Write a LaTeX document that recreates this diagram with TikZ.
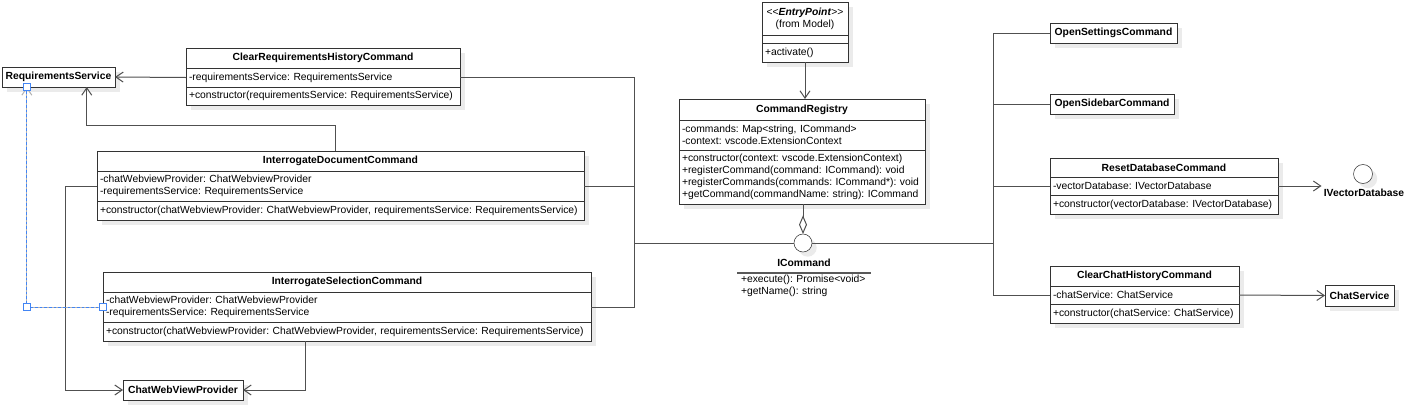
\documentclass[tikz,border=0pt]{standalone}
\usepackage{fontspec}
\setmainfont{Liberation Sans}
\usetikzlibrary{arrows.meta, calc, shadows}

\newlength{\upx}
\setlength{\upx}{0.75pt}
\newcommand{\umlsize}{\fontsize{7.75}{9}\selectfont\frenchspacing\hyphenpenalty=10000\exhyphenpenalty=10000}

\definecolor{boxline}{RGB}{51,51,51}
\definecolor{connline}{RGB}{80,80,80}
\definecolor{selblue}{RGB}{66,133,244}

\begin{document}
\begin{tikzpicture}[
    x=0.75pt, y=-0.75pt,
    boxshadow/.style={general shadow={fill=black!8, shadow xshift=3.5pt, shadow yshift=-3.5pt}},
    classname/.style={draw=boxline, fill=white, font=\umlsize\bfseries, minimum width=#1, minimum height=20\upx, inner sep=0pt, outer sep=0pt, anchor=north west, boxshadow},
    classpart/.style={draw=boxline, fill=white, font=\umlsize, text width=#1, inner xsep=3\upx, inner ysep=0pt, outer sep=0pt, align=left, anchor=north west, boxshadow},
    refbox/.style={draw=boxline, fill=white, font=\umlsize\bfseries, minimum width=#1, minimum height=20\upx, inner sep=0pt, outer sep=0pt, boxshadow},
    iface/.style={circle, draw=boxline, fill=white, minimum size=18\upx, inner sep=0pt, outer sep=0pt, boxshadow},
    ifacename/.style={font=\umlsize\bfseries, inner sep=2\upx},
    members/.style={font=\umlsize, text width=#1, inner xsep=4\upx, inner ysep=2\upx, outer sep=0pt, align=left, anchor=north west},
    conn/.style={draw=connline, line width=0.75pt},
    openarrow/.style={-{Straight Barb[length=5.5pt, width=7.5pt]}},
    aggr/.style={-{Diamond[open, length=14pt, width=6pt]}},
    selline/.style={draw=selblue, line width=0.75pt, dash pattern=on 2pt off 1.5pt},
    handle/.style={draw=selblue, fill=white, line width=0.6pt, minimum size=7\upx, inner sep=0pt},
]
\path[use as bounding box, fill=white] (0,0) rectangle (1419,411);

\node[refbox=113\upx] (reqSvc) at (58.5,77) {RequirementsService};

\node[classname=274\upx] (clearReq) at (186,48) {ClearRequirementsHistoryCommand};
\node[classpart=268\upx, minimum height=19\upx] (clearReqAttr) at (clearReq.south west) {-requirementsService: RequirementsService};
\node[classpart=268\upx, minimum height=18\upx] (clearReqOps) at (clearReqAttr.south west) {+constructor(requirementsService: RequirementsService)};

\node[classname=487\upx] (interDoc) at (97,151) {InterrogateDocumentCommand};
\node[classpart=481\upx, minimum height=30\upx] (interDocAttr) at (interDoc.south west) {-chatWebviewProvider: ChatWebviewProvider\\-requirementsService: RequirementsService};
\node[classpart=481\upx, minimum height=19\upx] (interDocOps) at (interDocAttr.south west) {+constructor(chatWebviewProvider: ChatWebviewProvider, requirementsService: RequirementsService)};

\node[classname=488\upx] (interSel) at (103,272) {InterrogateSelectionCommand};
\node[classpart=482\upx, minimum height=30\upx] (interSelAttr) at (interSel.south west) {-chatWebviewProvider: ChatWebviewProvider\\-requirementsService: RequirementsService};
\node[classpart=482\upx, minimum height=19\upx] (interSelOps) at (interSelAttr.south west) {+constructor(chatWebviewProvider: ChatWebviewProvider, requirementsService: RequirementsService)};

\node[refbox=120\upx] (chatWvp) at (183,390) {ChatWebViewProvider};

\node[classname=86\upx, minimum height=33\upx, font=\umlsize, align=center] (entry) at (762,2) {<{}<\textbf{\textit{EntryPoint}}>{}>\\(from Model)};
\node[classname=86\upx, minimum height=8\upx, font=\umlsize] (entryAttr) at (entry.south west) {};
\node[classpart=80\upx, minimum height=19\upx] (entryOps) at (entryAttr.south west) {+activate()};

\node[classname=246\upx, minimum height=21\upx] (cmdReg) at (679,99) {CommandRegistry};
\node[classpart=240\upx, minimum height=30\upx] (cmdRegAttr) at (cmdReg.south west) {-commands: Map<string, ICommand>\\-context: vscode.ExtensionContext};
\node[classpart=240\upx, minimum height=54\upx] (cmdRegOps) at (cmdRegAttr.south west) {+constructor(context: vscode.ExtensionContext)\\+registerCommand(command: ICommand): void\\+registerCommands(commands: ICommand*): void\\+getCommand(commandName: string): ICommand};

\node[iface] (icmd) at (803,243) {};
\node[ifacename] (icmdName) at (804,263) {ICommand};
\node[members=126\upx] (icmdOps) at (737,273) {+execute(): Promise<void>\\+getName(): string};

\node[refbox=127\upx] (openSet) at (1113.5,33) {OpenSettingsCommand};
\node[refbox=124\upx] (openSide) at (1112,104) {OpenSidebarCommand};

\node[classname=228\upx, minimum height=19\upx] (resetDb) at (1050,158) {ResetDatabaseCommand};
\node[classpart=222\upx, minimum height=18\upx] (resetDbAttr) at (resetDb.south west) {-vectorDatabase: IVectorDatabase};
\node[classpart=222\upx, minimum height=19\upx] (resetDbOps) at (resetDbAttr.south west) {+constructor(vectorDatabase: IVectorDatabase)};

\node[iface, minimum size=19\upx] (ivdb) at (1363,174) {};
\node[ifacename] (ivdbName) at (1364,193) {IVectorDatabase};

\node[classname=189\upx] (clearChat) at (1050,266) {ClearChatHistoryCommand};
\node[classpart=183\upx, minimum height=18\upx] (clearChatAttr) at (clearChat.south west) {-chatService: ChatService};
\node[classpart=183\upx, minimum height=19\upx] (clearChatOps) at (clearChatAttr.south west) {+constructor(chatService: ChatService)};

\node[refbox=69\upx, minimum height=21\upx] (chatSvc) at (1359.5,295.5) {ChatService};

\coordinate (busL) at (634,243);
\coordinate (busR) at (993,243);
\coordinate (reqTip) at ($(reqSvc.south west)!0.75!(reqSvc.south east)$);
\coordinate (reqHook) at ($(reqSvc.south west)!0.22!(reqSvc.south east)$);

\draw[gray!70!black, line width=1pt] (icmdOps.north west) -- (icmdOps.north east);

\draw[conn] (clearReqAttr.east) -| (busL);
\draw[conn] (interDocAttr.east) -| (busL);
\draw[conn] (interSelAttr.east) -| (busL);
\draw[conn] (busL) -- (icmd.west);
\draw[conn] (icmd.east) -- (busR);
\draw[conn] (openSet.west) -| (busR);
\draw[conn] (openSide.west) -| (busR);
\draw[conn] (resetDbAttr.west) -| (busR);
\draw[conn] (clearChatAttr.west) -| (busR);

\draw[conn, openarrow] (clearReqAttr.west) -- (reqSvc.east);
\draw[conn, openarrow] ($(interDoc.north west)!0.49!(interDoc.north east)$) -- ++(0,-26) -| (reqTip);
\draw[conn, openarrow] (interDocAttr.west) -- ++(-32,0) |- (chatWvp.west);
\draw[conn, openarrow] ($(interSelOps.south west)!0.415!(interSelOps.south east)$) |- (chatWvp.east);
\draw[conn, openarrow] (entryOps.south) -- (entryOps.south |- cmdReg.north);
\draw[conn, aggr] (icmd.north |- cmdRegOps.south) -- (icmd.north);
\draw[conn, openarrow] (resetDbAttr.east) -- (resetDbAttr.east -| ivdbName.west);
\draw[conn, openarrow] (clearChatAttr.east) -- (chatSvc.west);

\draw[conn, draw=gray!60, openarrow] (interSelAttr.west) -| (reqHook);
\draw[selline] (interSelAttr.west) -| (reqHook);
\node[handle] (hookTop) at (reqHook) {};
\node[handle] (hookBend) at (interSelAttr.west -| reqHook) {};
\node[handle] (hookEnd) at (interSelAttr.west) {};

\end{tikzpicture}
\end{document}
